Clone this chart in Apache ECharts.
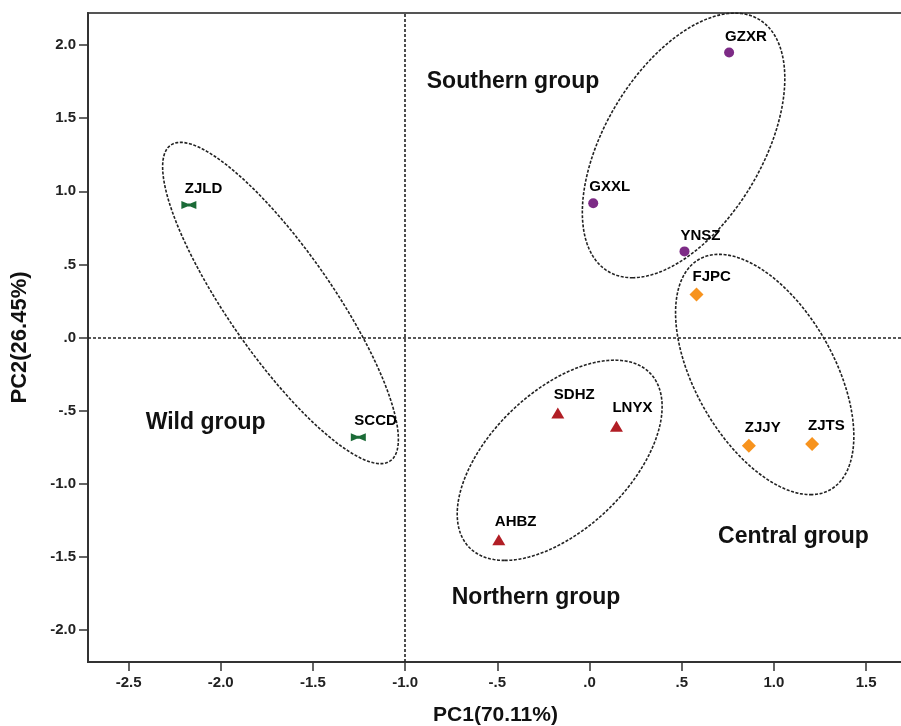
<!DOCTYPE html>
<html>
<head>
<meta charset="utf-8">
<script src="https://cdn.jsdelivr.net/npm/echarts@6/dist/echarts.min.js"></script>
<style>html,body{margin:0;padding:0;background:#fff;}#chart{width:901px;height:726px;}</style>
</head>
<body>
<div id="chart"></div>
<script>
// ---- data ----
const wildPoints = [["ZJLD", -2.173, 0.906], ["SCCD", -1.254, -0.683]];
const southernPoints = [["GZXR", 0.757, 1.950], ["GXXL", 0.020, 0.918], ["YNSZ", 0.515, 0.589]];
const northernPoints = [["SDHZ", -0.172, -0.516], ["LNYX", 0.146, -0.607], ["AHBZ", -0.492, -1.384]];
const centralPoints = [["FJPC", 0.580, 0.295], ["ZJJY", 0.864, -0.740], ["ZJTS", 1.207, -0.728]];
// ellipses: center x, center y, conjugate vector u (x,y), conjugate vector v (x,y)
const ellipses = [
  [-1.676, 0.236, 0.542, -1.099, 0.339, 0],
  [0.510, 1.314, -0.278, -0.905, 0.4735, 0],
  [0.950, -0.253, 0.248, -0.822, 0.415, 0],
  [-0.162, -0.840, -0.298, -0.685, 0.469, 0]
];
const groupLabels = [["Southern group", -0.415, 1.753], ["Wild group", -2.082, -0.584], ["Northern group", -0.290, -1.783], ["Central group", 1.106, -1.361]];
const xTicks = [-2.5, -2.0, -1.5, -1.0, -0.5, 0.0, 0.5, 1.0, 1.5];
const yTicks = [-2.0, -1.5, -1.0, -0.5, 0.0, 0.5, 1.0, 1.5, 2.0];
const xRange = [-2.72, 1.70];
const yRange = [-2.22, 2.22];
const refX = -1.0;
const refY = 0.0;

const FONT = "'Liberation Sans', Arial, sans-serif";
function fmt(v) {
  let s = Number(v).toFixed(1);
  if (s.startsWith('0')) s = s.slice(1);
  else if (s.startsWith('-0')) s = '-' + s.slice(2);
  return s;
}
function toData(arr) { return arr.map(p => ({ name: p[0], value: [p[1], p[2]] })); }
const ptLabel = (dy) => ({
  show: true, position: 'inside', align: 'left', verticalAlign: 'middle',
  formatter: '{b}', offset: [-4, dy], color: '#000', opacity: 1, textBorderWidth: 0,
  fontFamily: FONT, fontWeight: 'bold', fontSize: 15
});

const chart = echarts.init(document.getElementById('chart'), null, { renderer: 'canvas' });
const option = {
  animation: false,
  backgroundColor: '#fff',
  grid: { left: 88, top: 13, right: -2, bottom: 64, outerBoundsMode: 'none', containLabel: false, show: true, borderColor: '#555', borderWidth: 2 },
  xAxis: {
    type: 'value', min: xRange[0], max: xRange[1],
    name: 'PC1(70.11%)', nameLocation: 'middle', nameGap: 43,
    nameTextStyle: { fontFamily: FONT, fontWeight: 'bold', fontSize: 21, color: '#111', padding: [0, 0, 0, 0] },
    axisLine: { show: true, onZero: false, lineStyle: { color: '#333', width: 2 } },
    axisTick: { show: true, length: 9, customValues: xTicks, lineStyle: { color: '#333', width: 1.5 } },
    axisLabel: { customValues: xTicks, formatter: fmt, margin: 13, fontFamily: FONT, fontWeight: 'bold', fontSize: 15, color: '#222' },
    splitLine: { show: false }
  },
  yAxis: {
    type: 'value', min: yRange[0], max: yRange[1],
    name: 'PC2(26.45%)', nameLocation: 'middle', nameGap: 57, nameRotate: 90,
    nameTextStyle: { fontFamily: FONT, fontWeight: 'bold', fontSize: 22, color: '#111' },
    axisLine: { show: true, onZero: false, lineStyle: { color: '#333', width: 2 } },
    axisTick: { show: true, length: 9, customValues: yTicks, lineStyle: { color: '#333', width: 1.5 } },
    axisLabel: { customValues: yTicks, formatter: fmt, margin: 12, fontFamily: FONT, fontWeight: 'bold', fontSize: 15, color: '#222' },
    splitLine: { show: false }
  },
  series: [
    {
      type: 'custom', silent: true, z: 1, clip: false,
      data: ellipses,
      renderItem: function (params, api) {
        const cx = api.value(0), cy = api.value(1), ux = api.value(2), uy = api.value(3), vx = api.value(4), vy = api.value(5);
        const pts = [];
        const n = 240;
        for (let i = 0; i <= n; i++) {
          const t = i / n * Math.PI * 2;
          pts.push(api.coord([cx + ux * Math.cos(t) + vx * Math.sin(t), cy + uy * Math.cos(t) + vy * Math.sin(t)]));
        }
        return { type: 'polyline', shape: { points: pts }, style: { stroke: '#222', lineWidth: 1.6, lineDash: [3, 1.6], fill: null } };
      }
    },
    {
      type: 'scatter', z: 2, symbolSize: 0, silent: true,
      data: [],
      markLine: {
        silent: true, symbol: 'none', label: { show: false },
        lineStyle: { color: '#222', width: 1.6, type: [3, 2] },
        data: [{ xAxis: refX }, { yAxis: refY }]
      }
    },
    {
      type: 'scatter', name: 'Wild', z: 5,
      symbol: 'path://M0,0L6,2.5L9,2.5L15,0L15,8L9,5.5L6,5.5L0,8Z', symbolSize: [15, 8],
      itemStyle: { color: '#1b6b37', opacity: 1 },
      label: ptLabel(-16),
      data: toData(wildPoints)
    },
    {
      type: 'scatter', name: 'Southern', z: 5,
      symbol: 'circle', symbolSize: 10,
      itemStyle: { color: '#7d2b86', opacity: 1 },
      label: ptLabel(-16),
      data: toData(southernPoints)
    },
    {
      type: 'scatter', name: 'Northern', z: 5,
      symbol: 'triangle', symbolSize: [13, 11],
      itemStyle: { color: '#b11e25', opacity: 1 },
      label: ptLabel(-18),
      data: toData(northernPoints)
    },
    {
      type: 'scatter', name: 'Central', z: 5,
      symbol: 'diamond', symbolSize: [14, 14],
      itemStyle: { color: '#f7931e', opacity: 1 },
      label: ptLabel(-18),
      data: toData(centralPoints)
    },
    {
      type: 'scatter', name: 'groups', z: 6, silent: true,
      symbolSize: 1, itemStyle: { color: 'rgba(0,0,0,0)', opacity: 1 },
      label: { show: true, position: 'inside', formatter: '{b}', color: '#111', opacity: 1, textBorderWidth: 0, fontFamily: FONT, fontWeight: 'bold', fontSize: 23 },
      data: toData(groupLabels)
    }
  ]
};
chart.setOption(option);
</script>
</body>
</html>
